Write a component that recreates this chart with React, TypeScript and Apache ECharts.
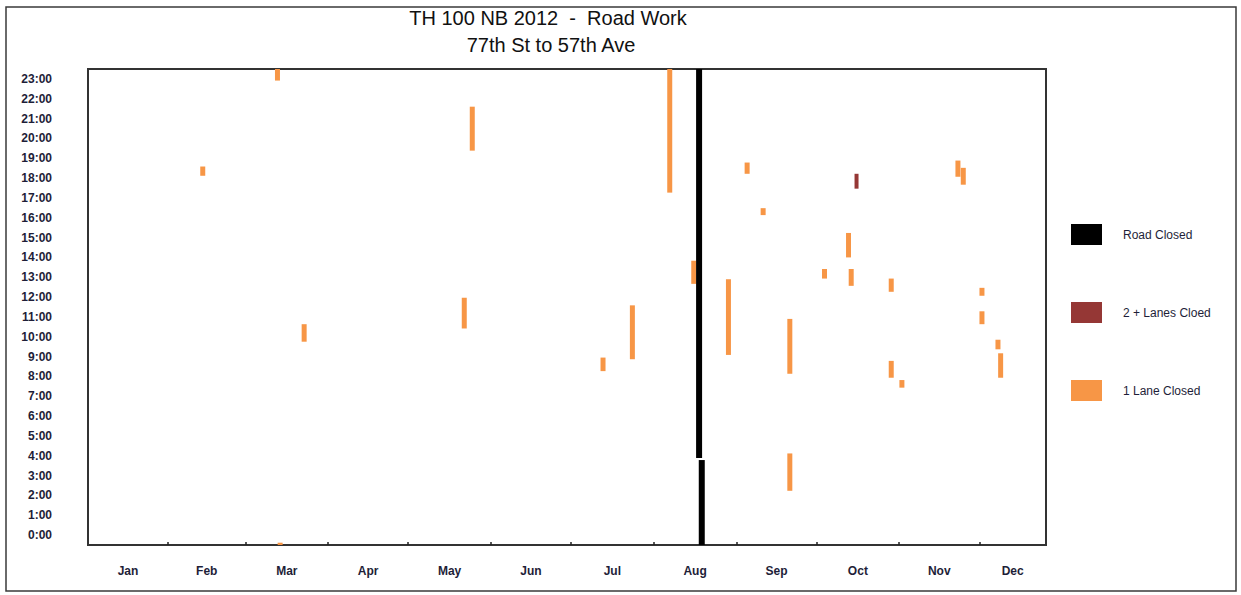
import React, { useEffect, useRef } from "react";
import * as echarts from "echarts";

// ---- data ----
const MONTHS = ["Jan", "Feb", "Mar", "Apr", "May", "Jun", "Jul", "Aug", "Sep", "Oct", "Nov", "Dec"];
// day-of-year (0 = Jan 1, 2012) of each month start
const MONTH_STARTS = [0, 31, 60, 91, 121, 152, 182, 213, 244, 274, 305, 335];
const AXIS_DAY_MIN = 1;
const AXIS_DAY_MAX = 360;
const HOUR_LABELS = [
  "0:00", "1:00", "2:00", "3:00", "4:00", "5:00", "6:00", "7:00", "8:00", "9:00", "10:00", "11:00",
  "12:00", "13:00", "14:00", "15:00", "16:00", "17:00", "18:00", "19:00", "20:00", "21:00", "22:00", "23:00",
];

// [month-day, start time, end time]
const roadClosed: [string, string, string][] = [
  ["08-18", "4:23", "24:00"],
  ["08-19", "0:00", "4:17"],
];
const twoLanesClosed: [string, string, string][] = [
  ["10-16", "17:58", "18:43"],
];
const oneLaneClosed: [string, string, string][] = [
  ["02-14", "18:37", "19:05"],
  ["03-13", "23:25", "24:00"],
  ["03-14", "0:00", "0:07"],
  ["03-23", "10:15", "11:08"],
  ["05-22", "10:55", "12:28"],
  ["05-25", "19:53", "22:06"],
  ["07-13", "8:46", "9:27"],
  ["07-24", "9:22", "12:05"],
  ["08-07", "17:46", "24:00"],
  ["08-16", "13:10", "14:20"],
  ["08-29", "9:35", "13:24"],
  ["09-05", "18:43", "19:17"],
  ["09-11", "16:38", "16:59"],
  ["09-21", "8:38", "11:24"],
  ["09-21", "2:44", "4:37"],
  ["10-04", "13:26", "13:55"],
  ["10-13", "14:30", "15:44"],
  ["10-14", "13:04", "13:55"],
  ["10-29", "12:46", "13:26"],
  ["10-29", "8:26", "9:17"],
  ["11-02", "7:56", "8:19"],
  ["11-23", "18:34", "19:23"],
  ["11-25", "18:10", "19:01"],
  ["12-02", "12:34", "12:58"],
  ["12-02", "11:08", "11:47"],
  ["12-08", "9:52", "10:21"],
  ["12-09", "8:26", "9:40"],
];

const toDay = (md: string) => {
  const [m, d] = md.split("-").map(Number);
  return (Date.UTC(2012, m - 1, d) - Date.UTC(2012, 0, 1)) / 864e5;
};
const toHour = (hm: string) => {
  const [h, m] = hm.split(":").map(Number);
  return h + m / 60;
};
const toPoints = (rows: [string, string, string][]) =>
  rows.map(([d, s, e]) => [toDay(d), toHour(s), toHour(e)]);

const FONT = "'Liberation Sans', Arial, sans-serif";
const TEXT_COLOR = "#1e1e38";

const monthTicks = MONTH_STARTS.slice(1);
const monthMids = MONTH_STARTS.map((s, i) =>
  ((i === 0 ? AXIS_DAY_MIN : s) + (i < 11 ? MONTH_STARTS[i + 1] : AXIS_DAY_MAX)) / 2
);

const makeSeries = (name: string, rows: [string, string, string][], color: string, w: number) => ({
  name,
  type: "custom",
  xAxisIndex: 0,
  yAxisIndex: 1,
  clip: true,
  itemStyle: { color },
  encode: { x: 0, y: [1, 2] },
  data: toPoints(rows),
  renderItem: (params: any, api: any) => {
    const day = api.value(0);
    const p0 = api.coord([day, api.value(1)]);
    const p1 = api.coord([day, api.value(2)]);
    return {
      type: "rect",
      shape: { x: p0[0] - w / 2, y: p1[1], width: w, height: p0[1] - p1[1] },
      style: { fill: color },
    };
  },
});

export default function App() {
  const ref = useRef<HTMLDivElement>(null);
  useEffect(() => {
    if (!ref.current) return;
    const chart = echarts.init(ref.current, null, { renderer: "svg" });
    chart.setOption({
      animation: false,
      backgroundColor: "#ffffff",
      title: [
        {
          text: "TH 100 NB 2012  -  Road Work",
          left: 548,
          top: 8,
          textAlign: "center",
          padding: 0,
          textStyle: { fontFamily: FONT, fontSize: 20, fontWeight: "normal", color: "#111" },
        },
        {
          text: "77th St to 57th Ave",
          left: 551,
          top: 35,
          textAlign: "center",
          padding: 0,
          textStyle: { fontFamily: FONT, fontSize: 20, fontWeight: "normal", color: "#111" },
        },
      ],
      graphic: [
        {
          type: "rect",
          silent: true,
          shape: { x: 6, y: 7, width: 1230, height: 584 },
          style: { fill: "none", stroke: "#3a3a3a", lineWidth: 1.5 },
        },
      ],
      legend: {
        orient: "vertical",
        left: 1071,
        top: 224,
        padding: 0,
        itemWidth: 31,
        itemHeight: 21,
        itemGap: 57,
        icon: "rect",
        selectedMode: false,
        data: ["Road Closed", "2 + Lanes Cloed", "1 Lane Closed"],
        textStyle: { fontFamily: FONT, fontSize: 12, color: TEXT_COLOR, padding: [0, 0, 0, 16] },
      },
      grid: {
        left: 88,
        top: 69,
        width: 958,
        height: 476,
        show: true,
        borderColor: "#333",
        borderWidth: 2,
        containLabel: false,
      },
      xAxis: [
        {
          type: "value",
          min: AXIS_DAY_MIN,
          max: AXIS_DAY_MAX,
          splitLine: { show: false },
          axisLine: { show: true, lineStyle: { color: "#333", width: 2 } },
          axisTick: {
            show: true,
            inside: true,
            length: 3,
            customValues: monthTicks,
            lineStyle: { color: "#222", width: 1.5 },
          },
          axisLabel: {
            customValues: monthMids,
            margin: 20,
            fontFamily: FONT,
            fontSize: 12,
            fontWeight: "bold",
            color: TEXT_COLOR,
            formatter: (v: number) => {
              const i = monthMids.indexOf(v);
              return i >= 0 ? MONTHS[i] : "";
            },
          },
        },
      ],
      yAxis: [
        {
          type: "category",
          data: HOUR_LABELS,
          boundaryGap: true,
          axisLine: { show: false },
          axisTick: { show: false },
          splitLine: { show: false },
          axisLabel: {
            margin: 36,
            fontFamily: FONT,
            fontSize: 12,
            fontWeight: "bold",
            color: TEXT_COLOR,
          },
        },
        {
          type: "value",
          min: 0,
          max: 24,
          show: false,
          splitLine: { show: false },
        },
      ],
      series: [
        makeSeries("1 Lane Closed", oneLaneClosed, "#F79646", 5),
        makeSeries("2 + Lanes Cloed", twoLanesClosed, "#953735", 4),
        makeSeries("Road Closed", roadClosed, "#000000", 6),
      ],
    });
    return () => chart.dispose();
  }, []);
  return (
    <div
      ref={ref}
      style={{ position: "fixed", left: 0, top: 0, width: 1241, height: 595, background: "#fff" }}
    />
  );
}
